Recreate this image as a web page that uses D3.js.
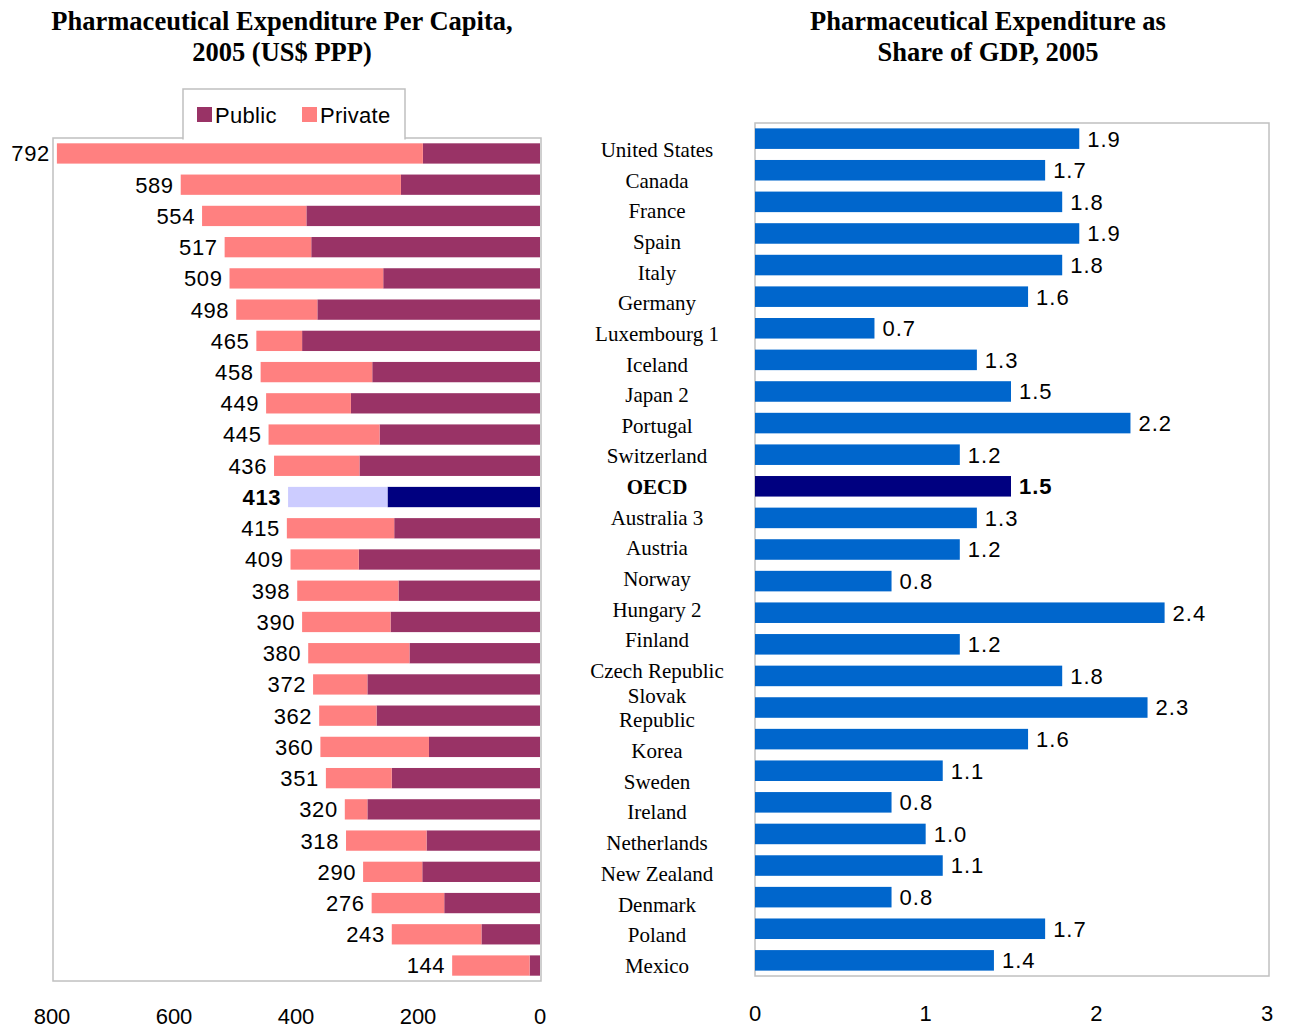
<!DOCTYPE html>
<html>
<head>
<meta charset="utf-8">
<script src="https://cdnjs.cloudflare.com/ajax/libs/d3/7.8.5/d3.min.js"></script>
<style>
  body { margin: 0; background: #fff; }
  svg { display: block; }
</style>
</head>
<body>
<div id="chart"></div>
<script>
// left panel: per capita spending, public + private (US$ PPP)
var totalLabels = [792, 589, 554, 517, 509, 498, 465, 458, 449, 445, 436, 413, 415, 409,
  398, 390, 380, 372, 362, 360, 351, 320, 318, 290, 276, 243, 144];
var publicVals = [192, 228, 383, 375, 257, 365, 390, 275, 310, 263, 296, 250, 239, 297,
  232, 245, 214, 283, 268, 182, 243, 283, 186, 193, 157, 96, 17];
var privateVals = [600, 361, 171, 142, 252, 133, 75, 183, 139, 182, 140, 163, 176, 112,
  166, 145, 166, 89, 94, 178, 108, 37, 132, 97, 119, 147, 127];
var leftTicks = [800, 600, 400, 200, 0];

// right panel: share of GDP
var countries = ['United States', 'Canada', 'France', 'Spain', 'Italy', 'Germany',
  'Luxembourg 1', 'Iceland', 'Japan 2', 'Portugal', 'Switzerland', 'OECD',
  'Australia 3', 'Austria', 'Norway', 'Hungary 2', 'Finland', 'Czech Republic',
  'Slovak Republic', 'Korea', 'Sweden', 'Ireland', 'Netherlands', 'New Zealand',
  'Denmark', 'Poland', 'Mexico'];
var gdpShare = [1.9, 1.7, 1.8, 1.9, 1.8, 1.6, 0.7, 1.3, 1.5, 2.2, 1.2, 1.5, 1.3, 1.2,
  0.8, 2.4, 1.2, 1.8, 2.3, 1.6, 1.1, 0.8, 1.0, 1.1, 0.8, 1.7, 1.4];
var rightTicks = [0, 1, 2, 3];

var OECD_IDX = 11;
var sans = '"Liberation Sans", Arial, sans-serif';
var serif = '"Liberation Serif", "Times New Roman", serif';

var svg = d3.select('#chart').append('svg')
    .attr('width', 1290)
    .attr('height', 1030);

// titles
function title(cx, lines) {
  var t = svg.append('text')
      .attr('x', cx)
      .attr('text-anchor', 'middle')
      .style('font-family', serif)
      .style('font-weight', 'bold')
      .style('font-size', '26.5px');
  lines.forEach(function(l, i) {
    t.append('tspan').attr('x', cx).attr('y', 30 + i * 31).text(l);
  });
}
title(282, ['Pharmaceutical Expenditure Per Capita,', '2005 (US$ PPP)']);
title(988, ['Pharmaceutical Expenditure as', 'Share of GDP, 2005']);

// ---- left chart ----
var lx = d3.scaleLinear().domain([0, 800]).range([540, 52]);
var ly = d3.scaleBand().domain(d3.range(totalLabels.length))
    .range([138, 981]).paddingInner(0.35).paddingOuter(0.17);

svg.append('rect')
    .attr('x', 53).attr('y', 138)
    .attr('width', 488).attr('height', 843)
    .attr('fill', 'none')
    .attr('stroke', '#c0c0c0')
    .attr('stroke-width', 1.5);

var rows = svg.append('g').selectAll('g')
    .data(totalLabels)
    .enter().append('g');

// public part sits against zero
rows.append('rect')
    .attr('x', function(d, i) { return lx(publicVals[i]); })
    .attr('y', function(d, i) { return ly(i); })
    .attr('width', function(d, i) { return lx(0) - lx(publicVals[i]); })
    .attr('height', ly.bandwidth())
    .attr('fill', function(d, i) { return i === OECD_IDX ? '#000080' : '#993366'; });

rows.append('rect')
    .attr('x', function(d, i) { return lx(publicVals[i] + privateVals[i]); })
    .attr('y', function(d, i) { return ly(i); })
    .attr('width', function(d, i) { return lx(publicVals[i]) - lx(publicVals[i] + privateVals[i]); })
    .attr('height', ly.bandwidth())
    .attr('fill', function(d, i) { return i === OECD_IDX ? '#ccccff' : '#ff8080'; });

rows.append('text')
    .attr('x', function(d, i) { return lx(publicVals[i] + privateVals[i]) - 7; })
    .attr('y', function(d, i) { return ly(i) + ly.bandwidth() / 2; })
    .attr('dy', '0.36em')
    .attr('text-anchor', 'end')
    .style('font-family', sans)
    .style('font-size', '22px')
    .style('letter-spacing', '0.6px')
    .style('font-weight', function(d, i) { return i === OECD_IDX ? 'bold' : 'normal'; })
    .text(function(d) { return d; });

svg.append('g').selectAll('text')
    .data(leftTicks)
    .enter().append('text')
    .attr('x', function(d) { return lx(d); })
    .attr('y', 1024)
    .attr('text-anchor', 'middle')
    .style('font-family', sans)
    .style('font-size', '22px')
    .text(function(d) { return d; });

// legend tab on top of the frame
svg.append('path')
    .attr('d', 'M183,139.5V89H405V139.5')
    .attr('fill', '#fff')
    .attr('stroke', '#c0c0c0')
    .attr('stroke-width', 1.5);
svg.append('line')
    .attr('x1', 184).attr('x2', 404)
    .attr('y1', 138).attr('y2', 138)
    .attr('stroke', '#fff').attr('stroke-width', 2);

var legend = [['Public', '#993366', 197], ['Private', '#ff8080', 302]];
legend.forEach(function(l) {
  svg.append('rect')
      .attr('x', l[2]).attr('y', 107)
      .attr('width', 15).attr('height', 15)
      .attr('fill', l[1]);
  svg.append('text')
      .attr('x', l[2] + 18).attr('y', 123)
      .style('font-family', sans)
      .style('font-size', '22px')
      .style('letter-spacing', '0.3px')
      .text(l[0]);
});

// ---- right chart ----
var rx = d3.scaleLinear().domain([0, 3]).range([755, 1267]);
var ry = d3.scaleBand().domain(d3.range(countries.length))
    .range([123, 976]).paddingInner(0.35).paddingOuter(0.17);
// the country column is laid out on its own rows (Slovak Republic wraps)
var labelY = d3.scaleLinear().domain([0, 17, 18, 19, 26]).range([150, 671, 708, 751, 966]);

svg.append('rect')
    .attr('x', 755).attr('y', 123)
    .attr('width', 514).attr('height', 853)
    .attr('fill', 'none')
    .attr('stroke', '#c0c0c0')
    .attr('stroke-width', 1.5);

var bars = svg.append('g').selectAll('g')
    .data(gdpShare)
    .enter().append('g');

bars.append('rect')
    .attr('x', rx(0))
    .attr('y', function(d, i) { return ry(i); })
    .attr('width', function(d) { return rx(d) - rx(0); })
    .attr('height', ry.bandwidth())
    .attr('fill', function(d, i) { return i === OECD_IDX ? '#000080' : '#0066cc'; });

bars.append('text')
    .attr('x', function(d) { return rx(d) + 8; })
    .attr('y', function(d, i) { return ry(i) + ry.bandwidth() / 2; })
    .attr('dy', '0.36em')
    .style('font-family', sans)
    .style('font-size', '22px')
    .style('letter-spacing', '1px')
    .style('font-weight', function(d, i) { return i === OECD_IDX ? 'bold' : 'normal'; })
    .text(function(d) { return d3.format('.1f')(d); });

svg.append('g').selectAll('text')
    .data(countries)
    .enter().append('text')
    .attr('text-anchor', 'middle')
    .style('font-family', serif)
    .style('font-size', '21px')
    .style('font-weight', function(d, i) { return i === OECD_IDX ? 'bold' : 'normal'; })
    .each(function(d, i) {
      var t = d3.select(this);
      var parts = d === 'Slovak Republic' ? ['Slovak', 'Republic'] : [d];
      parts.forEach(function(p, k) {
        t.append('tspan')
            .attr('x', 657)
            .attr('y', labelY(i) + 7 + (k - (parts.length - 1) / 2) * 24)
            .text(p);
      });
    });

svg.append('g').selectAll('text')
    .data(rightTicks)
    .enter().append('text')
    .attr('x', function(d) { return rx(d); })
    .attr('y', 1021)
    .attr('text-anchor', 'middle')
    .style('font-family', sans)
    .style('font-size', '22px')
    .text(function(d) { return d; });
</script>
</body>
</html>
